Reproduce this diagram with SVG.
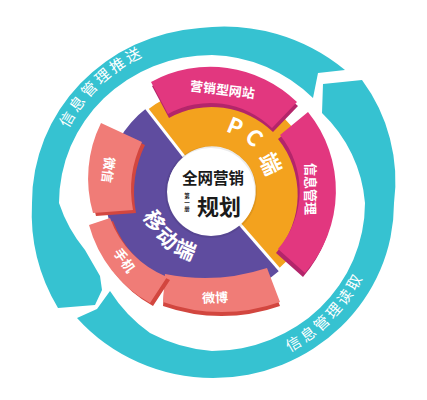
<svg xmlns="http://www.w3.org/2000/svg" width="427" height="400" viewBox="0 0 427 400">
<style>
text{font-family:"Noto Sans CJK SC","Noto Sans",sans-serif;}
.teal{fill:#36C2D1}
.mag{fill:#E2377F}
.magd{fill:#B3256A}
.sal{fill:#F07C77}
.sald{fill:#D2463F}
.lbl{fill:#fff;font-weight:700;font-size:13px;text-anchor:middle;dominant-baseline:central}
.ringtxt{fill:#fff;font-size:15px;letter-spacing:3px}
.big{fill:#fff;font-weight:700}
.gap{stroke:#fff;stroke-width:3;fill:none}
.ctr{font-weight:700;text-anchor:middle;dominant-baseline:central;fill:#1a1a1a}
</style>
<defs>
<path id="pA" d="M 59.8 147.6 A 162 162 0 0 1 164.6 48.1"/>
<path id="pB" d="M 269.5 360.9 A 168 168 0 0 0 371.8 254.9"/>
<path id="pPC" d="M 211 130 A 61 61 0 0 1 254 148"/>
<path id="pMob" d="M 140.6 206 A 72 72 0 0 0 204.7 262.7"/>
</defs>
<rect width="427" height="400" fill="#fff"/>

<g id="connectors">
<g id="arrow-push">
<path class="teal" d="M 345 70 A 190 190 0 0 0 200 28 A 181 175 0 0 0 32 203 A 185 185 0 0 0 58 308 L 95 305 L 102 290 L 100 276 L 85 250 A 153 148 0 0 1 59 203 A 153 148 0 0 1 212 55 A 150 150 0 0 1 313 98 L 318 73 Z"/>
<text class="ringtxt"><textPath href="#pA" startOffset="50%" text-anchor="middle">信息管理推送</textPath></text>
</g>
<g id="arrow-read">
<path class="teal" d="M 77 318 L 97 309 L 110 291 A 150 150 0 0 0 150 333 A 153 148 0 0 0 212 351 A 153 148 0 0 0 365 203 A 140 140 0 0 0 322 113 L 323 84 L 362 80 A 170 170 0 0 1 394 203 A 181 175 0 0 1 213 378 A 181 175 0 0 1 77 318 Z"/>
<text class="ringtxt"><textPath href="#pB" startOffset="50%" text-anchor="middle">信息管理读取</textPath></text>
</g>
</g>

<g id="pc-ring">
<path fill="#F3A21E" d="M 147.6 109.8 A 103 103 0 0 1 278.6 268.7 L 239.9 224.2 A 44 44 0 0 0 183.9 156.3 Z"/>
<text class="big" font-size="22" letter-spacing="5"><textPath href="#pPC" startOffset="14">PC</textPath></text>
<text class="big" font-size="22" text-anchor="middle" dominant-baseline="central" transform="translate(272,163) rotate(65)">端</text>
</g>

<g id="mobile-ring">
<path fill="#5F4C9F" d="M 279.9 270.2 A 105 105 0 1 1 146.4 108.3 L 183.9 156.3 A 44 44 0 1 0 239.9 224.2 Z"/>
</g>
<line class="gap" x1="183.9" y1="156.3" x2="142" y2="102.7"/>
<line class="gap" x1="239.9" y1="224.2" x2="284.5" y2="275.5"/>

<g id="seg-website">
<path class="magd" transform="translate(1,4)" d="M 151 82 A 124 124 0 0 1 297 102 L 272 128 A 88 88 0 0 0 168 114 Z"/>
<path class="mag" d="M 151 82 A 124 124 0 0 1 297 102 L 272 128 A 88 88 0 0 0 168 114 Z"/>
<text class="lbl" font-size="14" transform="translate(222.5,89) rotate(7)">营销型网站</text>
</g>

<g id="seg-info">
<path class="magd" transform="translate(-2,4)" d="M 308 112 A 125 125 0 0 1 305 273 L 278 249 A 89 89 0 0 0 280 135 Z"/>
<path class="mag" d="M 308 112 A 125 125 0 0 1 305 273 L 278 249 A 89 89 0 0 0 280 135 Z"/>
<text class="lbl" font-size="14" transform="translate(311,189) rotate(90)">信息管理</text>
</g>

<g id="seg-weibo">
<path class="sald" transform="translate(0,4)" d="M 165 274 A 200 200 0 0 0 267 268 L 280 302 A 176 176 0 0 1 163 302 Z"/>
<path class="sal" d="M 165 274 A 200 200 0 0 0 267 268 L 280 302 A 176 176 0 0 1 163 302 Z"/>
<text class="lbl" transform="translate(215,297) rotate(-2)">微博</text>
</g>

<g id="seg-phone">
<path class="sald" transform="translate(3,3)" d="M 89 225 L 110 218 A 100 100 0 0 0 167 277 L 150 303 A 128 128 0 0 1 89 225 Z"/>
<path class="sal" d="M 89 225 L 110 218 A 100 100 0 0 0 167 277 L 150 303 A 128 128 0 0 1 89 225 Z"/>
<text class="lbl" transform="translate(125,260) rotate(55)">手机</text>
</g>

<g id="seg-wechat">
<path class="sald" transform="translate(3,3)" d="M 101 123 L 142 142 A 110 110 0 0 0 133 210 L 93 213 A 125 125 0 0 1 101 123 Z"/>
<path class="sal" d="M 101 123 L 142 142 A 110 110 0 0 0 133 210 L 93 213 A 125 125 0 0 1 101 123 Z"/>
<text class="lbl" transform="translate(109,170) rotate(97)">微信</text>
</g>

<g id="mobile-label">
<text class="big" font-size="21" letter-spacing="3"><textPath href="#pMob" startOffset="50%" text-anchor="middle">移动端</textPath></text>
</g>

<g id="center">
<circle cx="211" cy="192" r="46" fill="#000" opacity="0.08"/>
<circle cx="211" cy="192" r="44" fill="#fff"/>
<text class="ctr" x="213" y="177" font-size="15.5">全网营销</text>
<text class="ctr" x="219" y="205" font-size="22">规划</text>
<text x="187" y="203" font-size="5.5" font-weight="700" fill="#1a1a1a" writing-mode="vertical-rl" text-anchor="middle" letter-spacing="1">第一册</text>
</g>
</svg>
